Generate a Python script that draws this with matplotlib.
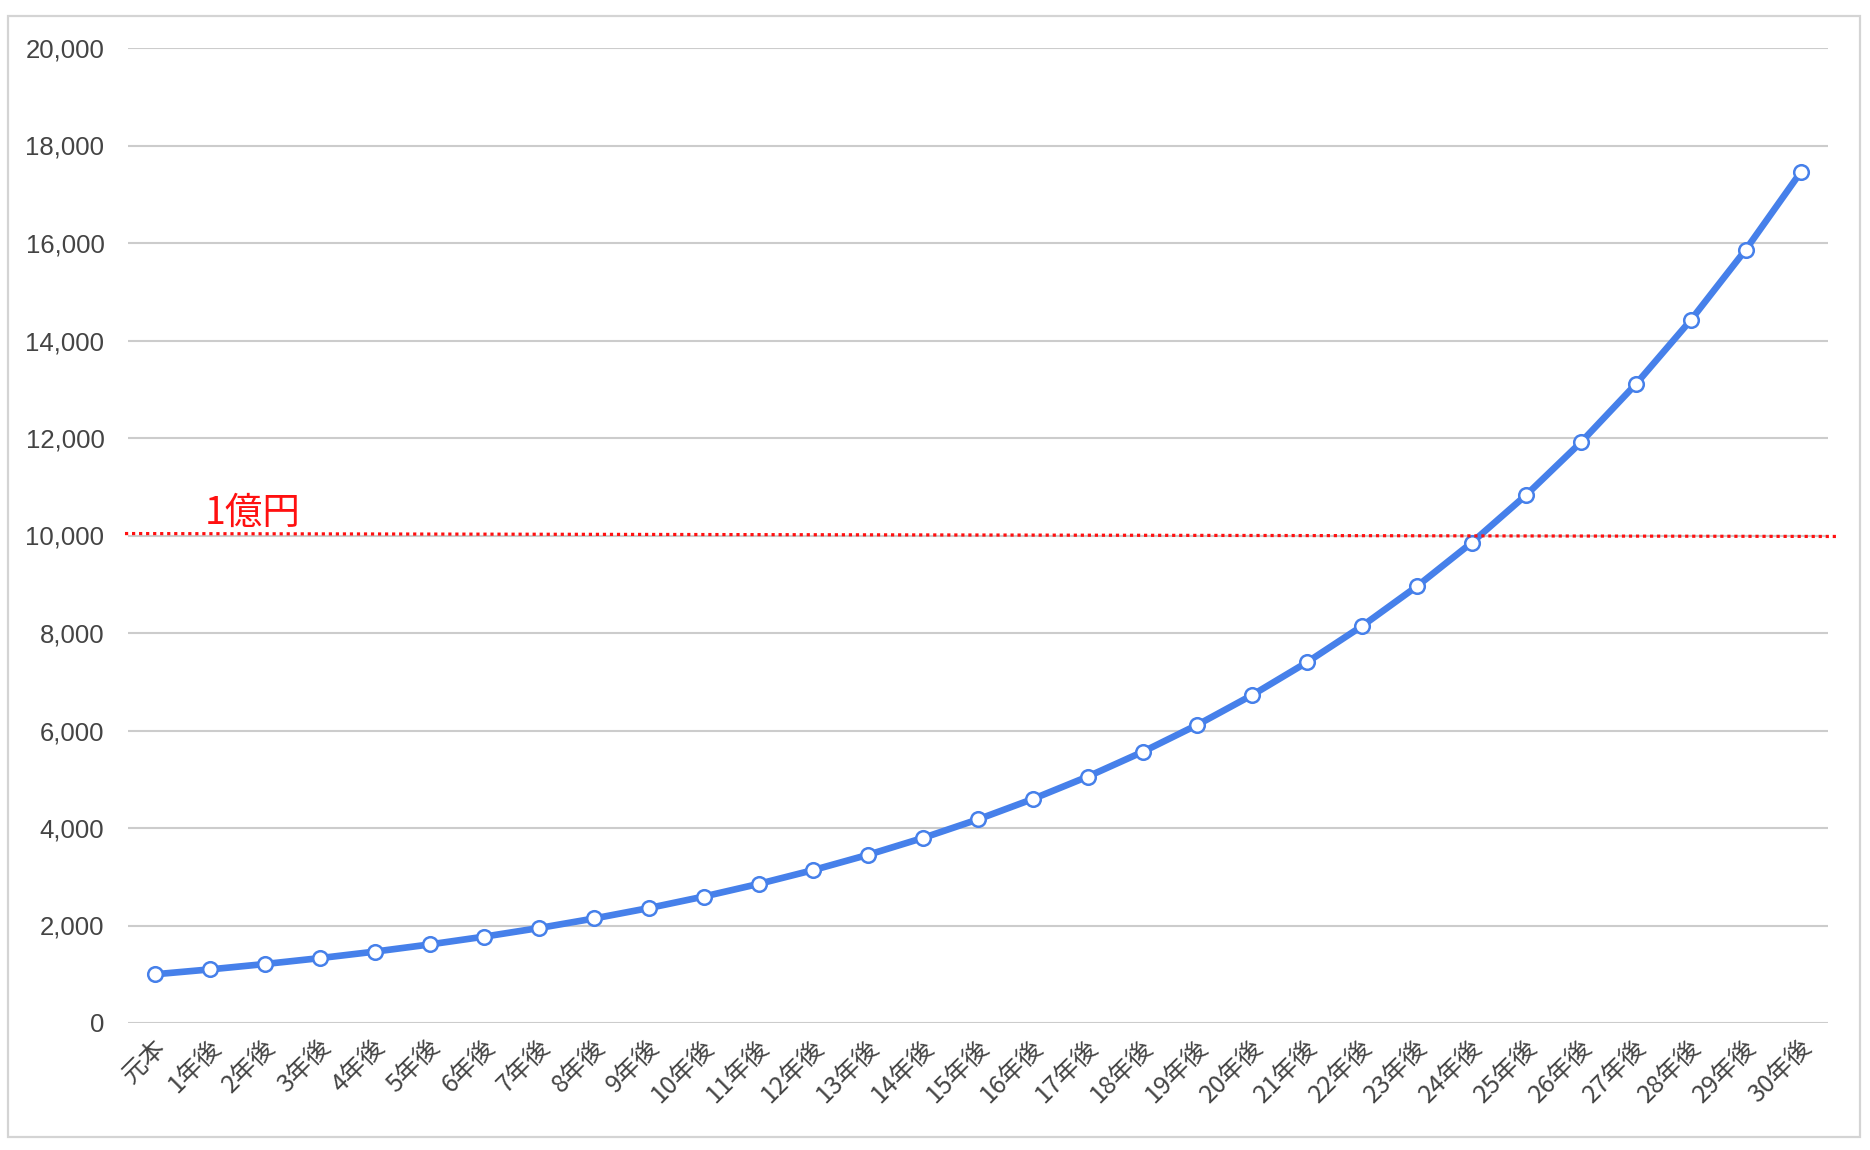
import matplotlib
matplotlib.use("Agg")
import matplotlib.pyplot as plt
from matplotlib.patches import Rectangle
from matplotlib.ticker import FuncFormatter
import matplotlib.transforms as mtransforms

categories = ["元本"] + [f"{i}年後" for i in range(1, 31)]
values = [1000, 1100, 1210, 1331, 1464, 1611, 1772, 1949, 2144, 2358,
          2594, 2853, 3138, 3452, 3797, 4177, 4595, 5054, 5560, 6116,
          6727, 7400, 8140, 8954, 9850, 10835, 11918, 13110, 14421, 15863,
          17449]
target_value = 10000
target_label = "1億円"
y_ticks = [0, 2000, 4000, 6000, 8000, 10000, 12000, 14000, 16000, 18000, 20000]

W, H = 1870, 1150
fig = plt.figure(figsize=(W / 100, H / 100), dpi=100)
fig.patch.set_facecolor("white")

# outer border
fig.add_artist(Rectangle((8 / W, 1 - 1137 / H), (1860 - 8) / W, (1137 - 16) / H,
                         transform=fig.transFigure, fill=False,
                         edgecolor="#d4d4d4", linewidth=1.6))

ax = fig.add_axes([128 / W, (H - 1023) / H, (1828 - 128) / W, (1023 - 48) / H])
x = list(range(len(categories)))

ax.set_xlim(-0.5, len(categories) - 0.5)
ax.set_ylim(0, 20000)
ax.set_yticks(y_ticks)
ax.yaxis.set_major_formatter(FuncFormatter(lambda v, p: f"{int(v):,}"))
ax.grid(axis="y", color="#cccccc", linewidth=1.5, zorder=0)
for s in ax.spines.values():
    s.set_visible(False)

ax.plot(x, values, color="#4680ea", linewidth=4.8, zorder=3,
        marker="o", markersize=10.5, markerfacecolor="white",
        markeredgecolor="#4680ea", markeredgewidth=1.8, solid_capstyle="round")

# 1億円 line
ax.plot([-0.555, len(categories) - 0.34], [target_value + 40, target_value - 20],
        color="#ff1010", linewidth=2.3, linestyle=(0, (1.0, 1.2)),
        dash_capstyle="butt", zorder=5, clip_on=False)
ax.text(0.9, target_value + 230, target_label, color="#ff1010", fontsize=27,
        family=["Noto Sans CJK JP", "DejaVu Sans"], weight="normal",
        ha="left", va="baseline", zorder=6)

ax.tick_params(axis="y", length=0, pad=17, labelsize=18.5, labelcolor="#444444")
for lab in ax.get_yticklabels():
    lab.set_family(["Liberation Sans", "DejaVu Sans"])

ax.set_xticks(x)
ax.set_xticklabels(categories, rotation=45, ha="right", va="center",
                   rotation_mode="anchor", fontsize=18, color="#444444",
                   family=["Noto Sans CJK JP", "DejaVu Sans"])
ax.tick_params(axis="x", length=0, pad=15)
offset = mtransforms.ScaledTranslation(7 / 100, 0, fig.dpi_scale_trans)
for lab in ax.get_xticklabels():
    lab.set_transform(lab.get_transform() + offset)

fig.savefig("out.png", dpi=100, facecolor="white")
